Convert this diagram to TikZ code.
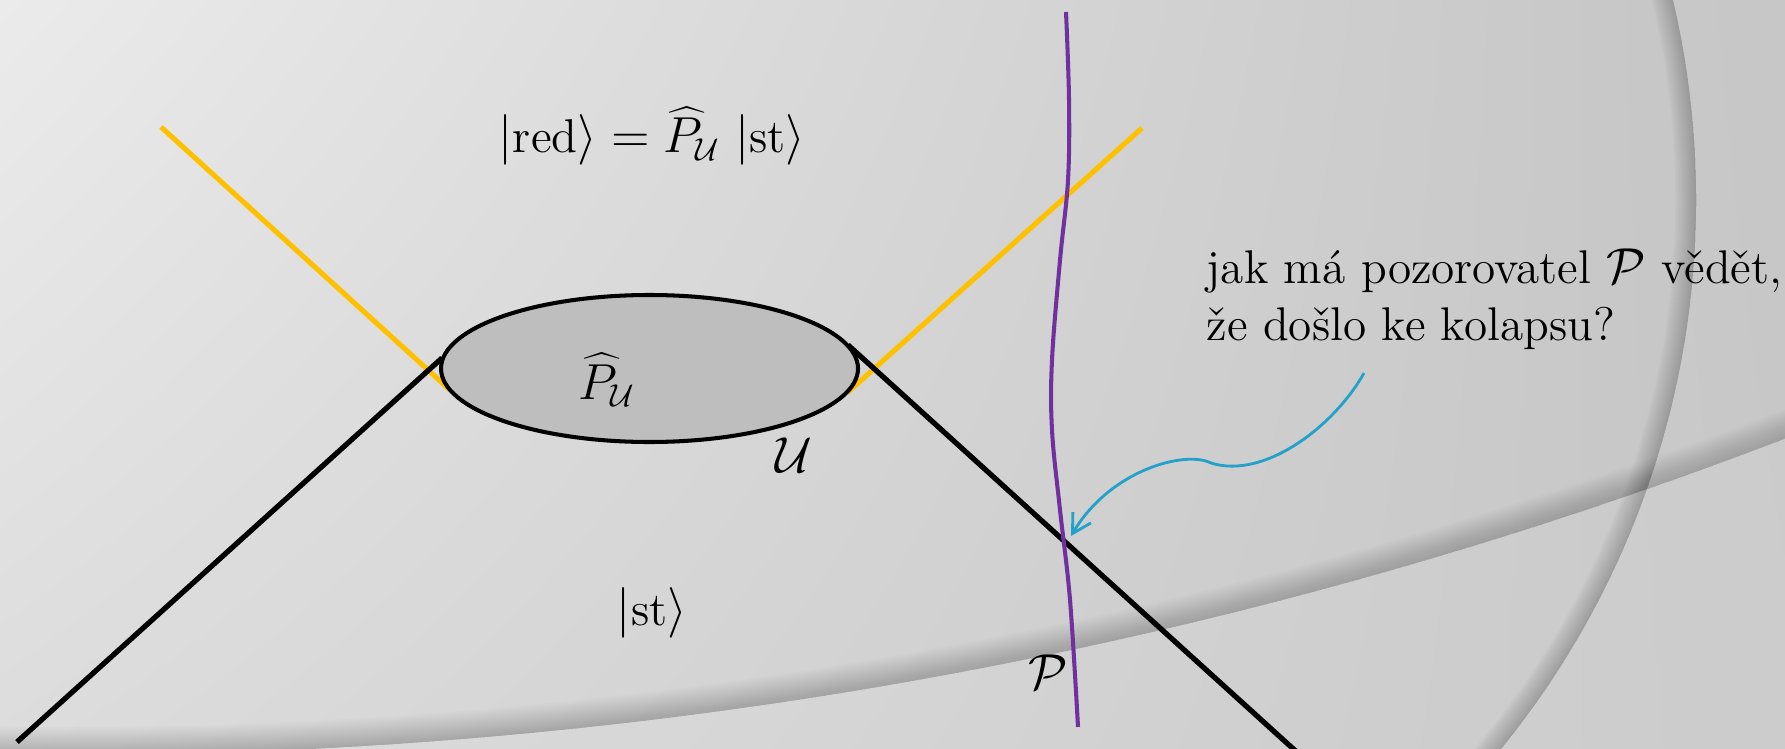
\documentclass[tikz,border=0pt]{standalone}
\usepackage{fontspec}
\usetikzlibrary{shapes.geometric,arrows.meta,shadings}
\definecolor{ygold}{HTML}{FFC000}
\definecolor{ppl}{HTML}{7030A0}
\definecolor{arrblue}{HTML}{23A1CA}
\definecolor{ellfill}{HTML}{BEBEBE}
\definecolor{bgUL}{HTML}{EBEBEB}
\definecolor{bgUR}{HTML}{C4C4C4}
\definecolor{bgLL}{HTML}{DCDCDC}
\definecolor{bgLR}{HTML}{C6C6C6}
\tikzset{
  lbl/.style={inner sep=0pt, font=\fontsize{13.5pt}{16pt}\selectfont},
  qtxt/.style={inner sep=0pt, anchor=base west, font=\fontsize{13.45pt}{16pt}\selectfont},
  yline/.style={draw=ygold, line width=1.45pt},
  bline/.style={draw=black, line width=1.5pt},
  obsline/.style={draw=ppl, line width=1.15pt},
  qarrow/.style={draw=arrblue, line width=0.8pt, -{Straight Barb[length=5.3pt,width=6pt]}},
  ellnode/.style={draw=black, line width=1.15pt, fill=ellfill, ellipse, inner sep=0pt, minimum width=4.17cm, minimum height=1.47cm}
}
\begin{document}
\begin{tikzpicture}
\useasboundingbox (0,0) rectangle (17.85,-7.48);
\clip (0,0) rectangle (17.85,-7.48);
% background
\shade[upper left=bgUL, upper right=bgUR, lower left=bgLL, lower right=bgLR] (0,0) rectangle (17.85,-7.48);
% lighter region outside the big circle (bottom)
\fill[white, opacity=0.07, even odd rule] (0.685,40.40) circle (47.95) (-1,1) rectangle (19,-9);
% soft shadow inside big circle (above the bottom arc)
\begin{scope}
  \clip (0.685,40.40) circle (47.95);
  \foreach \i in {1,...,16}
    \draw[black, opacity=0.010, line width=\i*0.035cm] (0.685,40.40) circle (47.95);
\end{scope}
% right arc
\begin{scope}
  \clip (13.5,0.1) rectangle (18,-7.6);
  \fill[white, opacity=0.05, even odd rule] (8.26,-2.0) circle (8.70) (-1,1) rectangle (19,-9);
  \clip (8.26,-2.0) circle (8.70);
  \foreach \i in {1,...,14}
    \draw[black, opacity=0.014, line width=\i*0.03cm] (8.26,-2.0) circle (8.70);
\end{scope}

% coordinates
\coordinate (yl) at (1.61,-1.27);
\coordinate (ylE) at (4.50,-3.90);
\coordinate (yr) at (11.42,-1.28);
\coordinate (yrE) at (8.47,-3.93);
\coordinate (bl) at (0.17,-7.42);
\coordinate (blE) at (4.42,-3.58);
\coordinate (br) at (13.00,-7.55);
\coordinate (brE) at (8.48,-3.45);

% yellow and black lines
\draw[yline] (yl) -- (ylE);
\draw[yline] (yr) -- (yrE);
\draw[bline] (bl) -- (blE);
\draw[bline] (brE) -- (br);

% region U
\node[ellnode] (U) at (6.495,-3.685) {};
\node[lbl] (Phat) at (6.07,-3.80) {$\widehat{P}_{\mathcal{U}}$};
\node[lbl] (Ulbl) at (7.94,-4.55) {$\mathcal{U}$};

% observer worldline
\draw[obsline] plot[smooth, tension=0.6] coordinates {(10.66,-0.12) (10.69,-1.00) (10.68,-1.80) (10.60,-2.60) (10.52,-3.60) (10.52,-4.30) (10.60,-5.10) (10.70,-6.00) (10.78,-7.27)};
\node[lbl] (Plbl) at (10.48,-6.72) {$\mathcal{P}$};

% states
\node[lbl] (red) at (6.52,-1.36) {$|\mathrm{red}\rangle = \widehat{P}_{\mathcal{U}}\;|\mathrm{st}\rangle$};
\node[lbl] (st) at (6.52,-6.13) {$|\mathrm{st}\rangle$};

% question
\node[qtxt] (q1) at (12.06,-2.83) {jak má pozorovatel $\mathcal{P}$ vědět,};
\node[qtxt] (q2) at (12.06,-3.40) {že došlo ke kolapsu?};

% arrow
\coordinate (qs) at (13.64,-3.73);
\coordinate (qm) at (12.11,-4.63);
\coordinate (qe) at (10.71,-5.36);
\draw[qarrow] (qs) .. controls (13.35,-4.25) and (12.65,-4.80) .. (qm) .. controls (11.85,-4.50) and (11.10,-4.70) .. (qe);
\end{tikzpicture}
\end{document}
